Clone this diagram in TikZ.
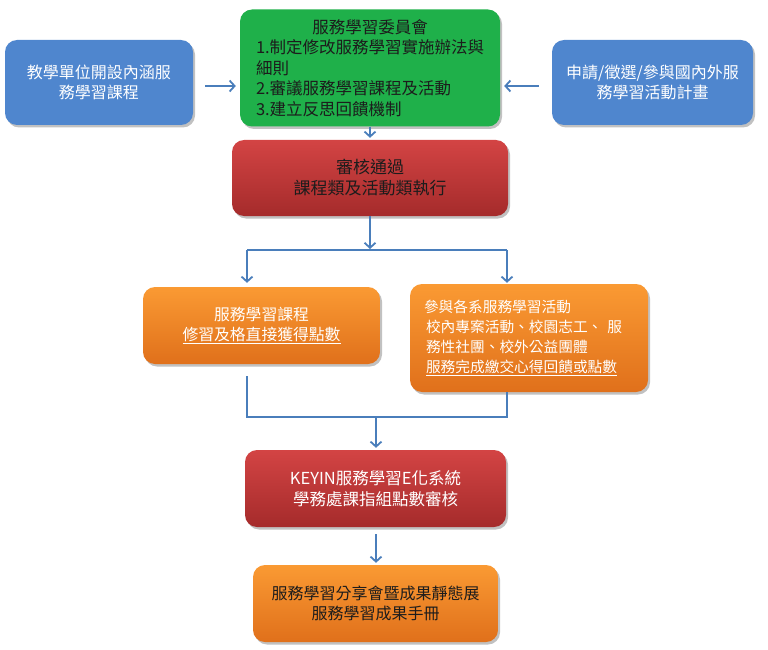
\documentclass[tikz,border=0pt]{standalone}
\usepackage{fontspec}
\setmainfont{Noto Sans CJK TC}
\usetikzlibrary{arrows.meta,shadows}
\definecolor{arrowblue}{HTML}{4A7EBB}
\definecolor{boxblue}{HTML}{4F86CE}
\definecolor{boxgreen}{HTML}{1FB04A}
\definecolor{redtop}{HTML}{D34444}
\definecolor{redbot}{HTML}{A52B2B}
\definecolor{orangetop}{HTML}{FA9A33}
\definecolor{orangebot}{HTML}{E0701B}
\definecolor{darktext}{HTML}{1C1C1C}
\begin{document}
\begin{tikzpicture}[x=1pt,y=-1pt,
  box/.style={rounded corners=12pt, inner sep=0pt,
    drop shadow={shadow xshift=2pt, shadow yshift=-2.5pt, opacity=0.35, fill=black!70}},
  bluebox/.style={box, fill=boxblue, text=white, align=center,
    font=\fontsize{16}{20}\selectfont},
  greenbox/.style={box, fill=boxgreen, text=darktext,
    font=\fontsize{16.5}{20.5}\selectfont},
  redbox/.style={box, top color=redtop, bottom color=redbot, align=center,
    font=\fontsize{17}{21}\selectfont},
  orangebox/.style={box, top color=orangetop, bottom color=orangebot,
    font=\fontsize{15.8}{20}\selectfont},
  arr/.style={draw=arrowblue, line width=1.8pt, -{Straight Barb[length=5pt,width=11pt,line width=1.8pt]}},
  ln/.style={draw=arrowblue, line width=1.8pt}
]
\useasboundingbox (0,0) rectangle (768,650);

\node[greenbox, minimum width=260pt, minimum height=117pt, text width=228pt, align=left] (green) at (370,68)
  {\makebox[\linewidth]{服務學習委員會}\\1.制定修改服務學習實施辦法與\\細則\\2.審議服務學習課程及活動\\3.建立反思回饋機制};

\node[bluebox, minimum width=188pt, minimum height=85pt] (lb) at (99,82.5)
  {教學單位開設內涵服\\務學習課程};
\node[bluebox, minimum width=201pt, minimum height=85pt] (rb) at (652.5,82.5)
  {申請/徵選/參與國內外服\\務學習活動計畫};

\node[redbox, text=darktext, minimum width=276pt, minimum height=76pt] (red1) at (370,178)
  {審核通過\\課程類及活動類執行};

\node[orangebox, text=white, align=center, minimum width=237pt, minimum height=77pt] (oL) at (261.5,325.5)
  {服務學習課程\\\underline{修習及格直接獲得點數}};
\node[orangebox, text=white, align=left, text width=206pt, minimum width=238pt, minimum height=108pt,
  font=\fontsize{14.7}{20}\selectfont] (oR) at (529,338)
  {\hspace*{-2pt}參與各系服務學習活動\\校內專案活動、校園志工、 服\\務性社團、校外公益團體\\\underline{服務完成繳交心得回饋或點數}};

\node[redbox, text=white, minimum width=261pt, minimum height=77pt, font=\fontsize{16.5}{21}\selectfont] (red2) at (375.5,488.5)
  {KEYIN服務學習E化系統\\學務處課指組點數審核};

\node[orangebox, text=darktext, align=center, minimum width=245pt, minimum height=77pt,
  font=\fontsize{16}{20}\selectfont] (fin) at (375.5,603.5)
  {服務學習分享會暨成果靜態展\\服務學習成果手冊};

% connectors
\draw[arr, shorten <=12pt, shorten >=4pt] (lb.east |- 0,86) -- (green.west |- 0,86);
\draw[arr, shorten <=13pt, shorten >=4pt] (rb.west |- 0,86) -- (green.east |- 0,86);
\draw[arr, shorten >=2pt] (green.south) -- (red1.north);

\coordinate (split) at (370,250);
\coordinate (jL) at (247,250);
\coordinate (jR) at (507,250);
\draw[arr, shorten >=1pt] (red1.south) -- (split);
\draw[ln] (jL) -- (jR);
\draw[arr, shorten >=4pt] (jL) -- (jL |- oL.north);
\draw[arr, shorten >=1pt] (jR) -- (jR |- oR.north);

\coordinate (mL) at (247,417);
\coordinate (mR) at (507,417);
\coordinate (merge) at (376,417);
\draw[ln, shorten <=12pt] (mL |- oL.south) -- (mL) -- (mR) -- (mR |- oR.south);
\draw[arr, shorten >=2pt] (merge) -- (merge |- red2.north);
\draw[arr, shorten <=7pt, shorten >=2pt] (red2.south -| merge) -- (fin.north -| merge);
\end{tikzpicture}
\end{document}
